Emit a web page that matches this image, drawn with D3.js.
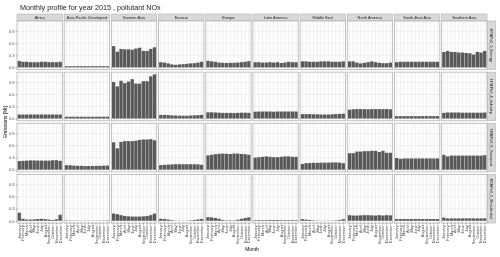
<!DOCTYPE html>
<html>
<head>
<meta charset="utf-8">
<script src="https://cdn.jsdelivr.net/npm/d3@7"></script>
<style>
  body { margin: 0; background: #fff; }
  svg { will-change: transform; }
  text { font-family: "Liberation Sans", Arial, sans-serif; }
</style>
</head>
<body>
<div id="chart"></div>
<script>
// chart values
var regions = ["Africa", "Asia-Pacific Developed", "Eastern Asia", "Eurasia", "Europe",
  "Latin America", "Middle East", "North America", "South-East Asia", "Southern Asia"];
var sectors = ["HTAPv3_3_Energy", "HTAPv3_4_Industry", "HTAPv3_5_Transport", "HTAPv3_6_Residential"];
var months = ["January", "February", "March", "April", "May", "June", "July",
  "August", "September", "October", "November", "December"];
var yTicks = [0, 0.3, 0.6, 0.9];

var energy = [
  [0.16, 0.14, 0.14, 0.13, 0.13, 0.13, 0.14, 0.14, 0.13, 0.13, 0.13, 0.14],
  [0.03, 0.03, 0.03, 0.03, 0.03, 0.03, 0.03, 0.03, 0.03, 0.03, 0.03, 0.03],
  [0.53, 0.39, 0.46, 0.45, 0.45, 0.44, 0.47, 0.49, 0.41, 0.41, 0.46, 0.50],
  [0.13, 0.12, 0.10, 0.075, 0.065, 0.075, 0.08, 0.09, 0.10, 0.105, 0.12, 0.14],
  [0.165, 0.15, 0.14, 0.12, 0.115, 0.11, 0.115, 0.115, 0.12, 0.13, 0.14, 0.155],
  [0.13, 0.13, 0.12, 0.12, 0.13, 0.12, 0.13, 0.11, 0.12, 0.14, 0.13, 0.13],
  [0.15, 0.15, 0.14, 0.14, 0.14, 0.15, 0.15, 0.15, 0.14, 0.14, 0.14, 0.15],
  [0.15, 0.15, 0.12, 0.10, 0.115, 0.13, 0.15, 0.13, 0.115, 0.105, 0.105, 0.12],
  [0.13, 0.14, 0.14, 0.14, 0.14, 0.14, 0.14, 0.14, 0.14, 0.14, 0.14, 0.14],
  [0.385, 0.41, 0.385, 0.385, 0.37, 0.37, 0.36, 0.35, 0.32, 0.385, 0.37, 0.41]
];
var industry = [
  [0.10, 0.10, 0.10, 0.10, 0.10, 0.10, 0.10, 0.10, 0.10, 0.10, 0.10, 0.10],
  [0.045, 0.045, 0.045, 0.045, 0.045, 0.045, 0.045, 0.045, 0.045, 0.045, 0.045, 0.045],
  [0.91, 0.80, 0.94, 0.88, 0.92, 0.98, 0.87, 0.87, 0.93, 0.93, 1.05, 1.10],
  [0.09, 0.09, 0.085, 0.08, 0.075, 0.07, 0.07, 0.07, 0.075, 0.08, 0.085, 0.09],
  [0.155, 0.155, 0.15, 0.145, 0.14, 0.14, 0.14, 0.135, 0.14, 0.145, 0.145, 0.14],
  [0.17, 0.175, 0.175, 0.175, 0.175, 0.17, 0.175, 0.175, 0.175, 0.175, 0.175, 0.175],
  [0.11, 0.11, 0.11, 0.105, 0.105, 0.10, 0.10, 0.10, 0.105, 0.11, 0.115, 0.12],
  [0.22, 0.23, 0.235, 0.235, 0.235, 0.23, 0.235, 0.235, 0.235, 0.235, 0.235, 0.23],
  [0.06, 0.06, 0.06, 0.06, 0.06, 0.06, 0.06, 0.06, 0.06, 0.06, 0.06, 0.06],
  [0.14, 0.15, 0.15, 0.15, 0.15, 0.145, 0.145, 0.145, 0.145, 0.145, 0.145, 0.15]
];
var transport = [
  [0.215, 0.22, 0.225, 0.23, 0.23, 0.225, 0.225, 0.225, 0.225, 0.235, 0.235, 0.22],
  [0.11, 0.11, 0.10, 0.095, 0.095, 0.09, 0.09, 0.09, 0.095, 0.095, 0.10, 0.10],
  [0.68, 0.53, 0.69, 0.71, 0.71, 0.71, 0.72, 0.74, 0.75, 0.75, 0.76, 0.73],
  [0.115, 0.12, 0.125, 0.13, 0.135, 0.135, 0.135, 0.135, 0.135, 0.135, 0.13, 0.12],
  [0.355, 0.37, 0.385, 0.395, 0.40, 0.395, 0.39, 0.40, 0.40, 0.39, 0.385, 0.37],
  [0.30, 0.31, 0.32, 0.33, 0.32, 0.31, 0.31, 0.32, 0.33, 0.33, 0.32, 0.32],
  [0.14, 0.16, 0.165, 0.17, 0.17, 0.175, 0.175, 0.175, 0.18, 0.18, 0.175, 0.16],
  [0.41, 0.41, 0.45, 0.45, 0.46, 0.46, 0.47, 0.47, 0.44, 0.47, 0.42, 0.42],
  [0.29, 0.27, 0.28, 0.28, 0.28, 0.28, 0.28, 0.28, 0.28, 0.28, 0.28, 0.28],
  [0.37, 0.33, 0.35, 0.35, 0.35, 0.35, 0.35, 0.35, 0.35, 0.35, 0.35, 0.36]
];
var residential = [
  [0.20, 0.05, 0.03, 0.03, 0.035, 0.045, 0.05, 0.04, 0.03, 0.02, 0.04, 0.15],
  [0.008, 0.007, 0.006, 0.005, 0.004, 0.004, 0.004, 0.004, 0.004, 0.005, 0.006, 0.008],
  [0.18, 0.165, 0.14, 0.12, 0.11, 0.105, 0.105, 0.105, 0.11, 0.12, 0.14, 0.18],
  [0.05, 0.045, 0.03, 0.015, 0.005, 0.003, 0.003, 0.003, 0.01, 0.02, 0.035, 0.045],
  [0.09, 0.085, 0.07, 0.05, 0.02, 0.01, 0.01, 0.01, 0.025, 0.05, 0.07, 0.085],
  [0.015, 0.015, 0.015, 0.015, 0.02, 0.02, 0.02, 0.015, 0.015, 0.015, 0.015, 0.015],
  [0.04, 0.03, 0.02, 0.01, 0.005, 0.003, 0.003, 0.003, 0.004, 0.01, 0.02, 0.04],
  [0.14, 0.13, 0.13, 0.135, 0.14, 0.14, 0.135, 0.13, 0.14, 0.13, 0.14, 0.135],
  [0.045, 0.045, 0.045, 0.045, 0.045, 0.045, 0.045, 0.045, 0.045, 0.045, 0.045, 0.045],
  [0.08, 0.06, 0.06, 0.06, 0.06, 0.06, 0.06, 0.06, 0.06, 0.06, 0.06, 0.06]
];
var sectorValues = [energy, industry, transport, residential];

// layout of the facet grid
var width = 500, height = 257;
var gridLeft = 17, gridRight = 487, gridTop = 21, gridBottom = 223;
var colGap = 1.8, rowGap = 2.5;
var stripH = 7, stripW = 8;
var panelW = (gridRight - gridLeft - colGap * (regions.length - 1)) / regions.length;
var panelH = (gridBottom - gridTop - rowGap * (sectors.length - 1)) / sectors.length;

var svg = d3.select("#chart").append("svg")
  .attr("width", width)
  .attr("height", height);

// scales shared by all panels
var maxVal = d3.max(sectorValues, function (s) { return d3.max(s, function (r) { return d3.max(r); }); });
var x = d3.scaleBand()
  .domain(months)
  .range([0, panelW])
  .paddingInner(0.1)
  .paddingOuter(0.15);
var y = d3.scaleLinear()
  .domain([-0.05 * maxVal, 1.05 * maxVal])
  .range([panelH, 0]);
var minorTicks = yTicks.map(function (t) { return t + 0.15; }).filter(function (t) { return t < y.domain()[1]; });

// title
svg.append("text")
  .attr("x", 20)
  .attr("y", 10)
  .style("font-size", "7.2px")
  .style("fill", "#1a1a1a")
  .text("Monthly profile for year 2015 , pollutant  NOx");

// column strips
regions.forEach(function (reg, c) {
  var px = gridLeft + c * (panelW + colGap);
  svg.append("rect")
    .attr("x", px).attr("y", gridTop - stripH)
    .attr("width", panelW).attr("height", stripH)
    .style("fill", "#d9d9d9").style("stroke", "#b3b3b3").style("stroke-width", 0.6);
  svg.append("text")
    .attr("x", px + panelW / 2).attr("y", gridTop - stripH / 2 + 1.4)
    .attr("text-anchor", "middle")
    .style("font-size", "3.9px").style("fill", "#1a1a1a")
    .text(reg);
});

// row strips
sectors.forEach(function (sec, r) {
  var py = gridTop + r * (panelH + rowGap);
  svg.append("rect")
    .attr("x", gridRight + 0.5).attr("y", py)
    .attr("width", stripW).attr("height", panelH)
    .style("fill", "#d9d9d9").style("stroke", "#b3b3b3").style("stroke-width", 0.6);
  svg.append("text")
    .attr("transform", "translate(" + (gridRight + 0.5 + stripW / 2 - 1.4) + "," + (py + panelH / 2) + ") rotate(90)")
    .attr("text-anchor", "middle")
    .style("font-size", "3.9px").style("fill", "#1a1a1a")
    .text(sec);
});

// panels
sectors.forEach(function (sec, r) {
  var py = gridTop + r * (panelH + rowGap);
  regions.forEach(function (reg, c) {
    var px = gridLeft + c * (panelW + colGap);
    var g = svg.append("g").attr("transform", "translate(" + px + "," + py + ")");
    var vals = sectorValues[r][c];

    g.append("rect")
      .attr("width", panelW).attr("height", panelH)
      .style("fill", "#fff");

    // grid lines
    g.selectAll("line.minor").data(minorTicks).enter().append("line")
      .attr("x1", 0).attr("x2", panelW)
      .attr("y1", function (d) { return y(d); }).attr("y2", function (d) { return y(d); })
      .style("stroke", "#f2f2f2").style("stroke-width", 0.5);
    g.selectAll("line.hmajor").data(yTicks).enter().append("line")
      .attr("x1", 0).attr("x2", panelW)
      .attr("y1", function (d) { return y(d); }).attr("y2", function (d) { return y(d); })
      .style("stroke", "#e6e6e6").style("stroke-width", 0.6);
    g.selectAll("line.vmajor").data(months).enter().append("line")
      .attr("y1", 0).attr("y2", panelH)
      .attr("x1", function (d) { return x(d) + x.bandwidth() / 2; })
      .attr("x2", function (d) { return x(d) + x.bandwidth() / 2; })
      .style("stroke", "#e6e6e6").style("stroke-width", 0.6);

    // bars
    g.selectAll("rect.bar").data(vals).enter().append("rect")
      .attr("class", "bar")
      .attr("x", function (d, i) { return x(months[i]); })
      .attr("width", x.bandwidth())
      .attr("y", function (d) { return y(d); })
      .attr("height", function (d) { return y(0) - y(d); })
      .style("fill", "#595959");

    // panel border
    g.append("rect")
      .attr("width", panelW).attr("height", panelH)
      .style("fill", "none").style("stroke", "#b3b3b3").style("stroke-width", 0.8);

    // y axis on first column
    if (c === 0) {
      var ya = d3.axisLeft(y).tickValues(yTicks).tickFormat(d3.format(".1f"))
        .tickSize(1.5).tickPadding(1);
      var yg = g.append("g").call(ya);
      yg.select(".domain").remove();
      yg.selectAll("line").style("stroke", "#4d4d4d").style("stroke-width", 0.5);
      yg.selectAll("text").style("font-size", "3.9px").style("fill", "#4d4d4d")
        .style("font-family", "Liberation Sans, Arial, sans-serif");
    }

    // x axis on last row
    if (r === sectors.length - 1) {
      var xa = d3.axisBottom(x).tickSize(1.5).tickPadding(1);
      var xg = g.append("g").attr("transform", "translate(0," + panelH + ")").call(xa);
      xg.select(".domain").remove();
      xg.selectAll("line").style("stroke", "#4d4d4d").style("stroke-width", 0.5);
      xg.selectAll("text")
        .attr("transform", "rotate(-90)")
        .attr("x", -2.2).attr("y", 0).attr("dy", "0.35em")
        .attr("text-anchor", "end")
        .style("font-size", "3.9px").style("fill", "#4d4d4d")
        .style("font-family", "Liberation Sans, Arial, sans-serif");
    }
  });
});

// axis titles
svg.append("text")
  .attr("x", (gridLeft + gridRight) / 2)
  .attr("y", 251)
  .attr("text-anchor", "middle")
  .style("font-size", "4.9px").style("fill", "#000")
  .text("Month");
svg.append("text")
  .attr("transform", "translate(7," + (gridTop + gridBottom) / 2 + ") rotate(-90)")
  .attr("text-anchor", "middle")
  .style("font-size", "4.9px").style("fill", "#000")
  .text("Emissions [Mt]");
</script>
</body>
</html>
